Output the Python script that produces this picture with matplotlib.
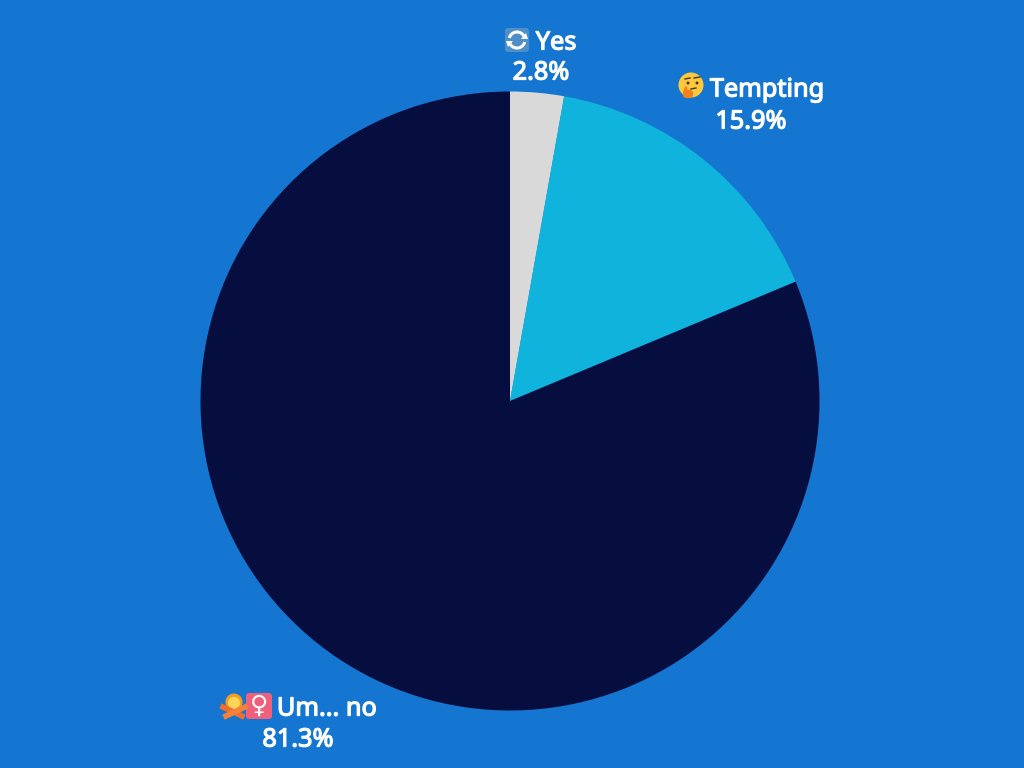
# coding: utf-8
import matplotlib
matplotlib.use("Agg")
import matplotlib.patheffects as pe
import matplotlib.pyplot as plt
from matplotlib.patches import Arc, Circle, FancyBboxPatch, Polygon

labels = ["Yes", "Tempting", "Um... no"]
values = [2.8, 15.9, 81.3]
colors = ["#D9D9D9", "#10B3DC", "#060E3F"]
value_labels = ["2.8%", "15.9%", "81.3%"]

BG = "#1476D0"
H = 768


def y_(y):
    # picture pixels run downwards, the axes upwards
    return H - y


def rounded(ax, x0, y0, x1, y1, color, alpha=1.0):
    ax.add_patch(FancyBboxPatch((x0 + 2, y_(y1) + 2), x1 - x0 - 4, y1 - y0 - 4,
                                boxstyle="round,pad=2,rounding_size=3",
                                fc=color, ec="none", alpha=alpha, zorder=3))


def icon_repeat(ax, cx, cy):
    rounded(ax, cx - 12, cy - 12, cx + 12, cy + 12, "#4E8FC8")
    for a1, a2 in [(25, 165), (205, 345)]:
        ax.add_patch(Arc((cx, y_(cy)), 16, 16, theta1=a1, theta2=a2,
                         color="white", lw=2.2, zorder=4))
    ax.add_patch(Polygon([(cx + 4, y_(cy - 1)), (cx + 11, y_(cy - 1)), (cx + 9, y_(cy - 7))],
                         fc="white", zorder=4))
    ax.add_patch(Polygon([(cx - 4, y_(cy + 1)), (cx - 11, y_(cy + 1)), (cx - 9, y_(cy + 7))],
                         fc="white", zorder=4))


def icon_thinking(ax, cx, cy):
    ax.add_patch(Circle((cx, y_(cy)), 12.5, fc="#FFC83D", ec="none", zorder=3))
    for dx in (-3, 6):
        ax.add_patch(Circle((cx + dx, y_(cy - 2)), 1.5, fc="#4A3320", ec="none", zorder=4))
    ax.plot([cx - 6, cx - 1], [y_(cy - 6), y_(cy - 7)], color="#4A3320", lw=1.0, zorder=4)
    ax.plot([cx + 3, cx + 9], [y_(cy - 7), y_(cy - 8)], color="#4A3320", lw=1.0, zorder=4)
    ax.plot([cx, cx + 5], [y_(cy + 4), y_(cy + 3)], color="#4A3320", lw=1.0, zorder=4)
    ax.add_patch(FancyBboxPatch((cx - 7, y_(cy + 12)), 8, 6,
                                boxstyle="round,pad=1,rounding_size=3",
                                fc="#F2801F", ec="none", zorder=5))
    ax.plot([cx - 6, cx - 5], [y_(cy + 7), y_(cy + 3)], color="#F2801F", lw=2.2,
            solid_capstyle="round", zorder=5)


def icon_no_person(ax, cx, cy):
    ax.add_patch(Circle((cx, y_(cy - 3)), 8.5, fc="#F4A01D", ec="none", zorder=3))
    ax.add_patch(Circle((cx, y_(cy - 2)), 6, fc="#FFD45A", ec="none", zorder=3.5))
    ax.plot([cx - 11, cx + 8], [y_(cy + 2), y_(cy + 11)], color="#EE6F2B", lw=4, zorder=4)
    ax.plot([cx + 11, cx - 8], [y_(cy + 2), y_(cy + 11)], color="#F5813A", lw=4, zorder=4)


def icon_female(ax, cx, cy):
    rounded(ax, cx - 13, cy - 13, cx + 13, cy + 13, "#F0607A")
    ax.text(cx, y_(cy), "\u2640", color="white", fontsize=18, fontweight="bold",
            family="DejaVu Sans", ha="center", va="center", zorder=4)


def main():
    fig = plt.figure(figsize=(10.24, 7.68), dpi=100, facecolor=BG)
    ax = fig.add_axes([0, 0, 1, 1])

    ax.pie(values, colors=colors, startangle=90, counterclock=False,
           center=(510, y_(401)), radius=309.5, frame=True)
    ax.set_xlim(0, 1024)
    ax.set_ylim(0, H)
    ax.set_aspect("equal")
    ax.axis("off")

    # the regular face only comes in one weight here, so thicken it with a stroke
    heavy = [pe.withStroke(linewidth=0.9, foreground="white")]
    font = dict(family="Noto Sans", fontsize=18.2, color="white",
                ha="center", va="center", zorder=5, path_effects=heavy)

    ax.text(556, y_(43), labels[0], **font)
    ax.text(541, y_(73), value_labels[0], **font)
    icon_repeat(ax, 517, 40)

    ax.text(767, y_(90), labels[1], **font)
    ax.text(751, y_(122), value_labels[1], **font)
    icon_thinking(ax, 691, 85)

    ax.text(327, y_(709), labels[2], **font)
    ax.text(298, y_(740), value_labels[2], **font)
    icon_no_person(ax, 234, 705)
    icon_female(ax, 259, 706)

    fig.savefig("out.png", dpi=100, facecolor=BG)
    plt.close(fig)


if __name__ == '__main__':
    main()
